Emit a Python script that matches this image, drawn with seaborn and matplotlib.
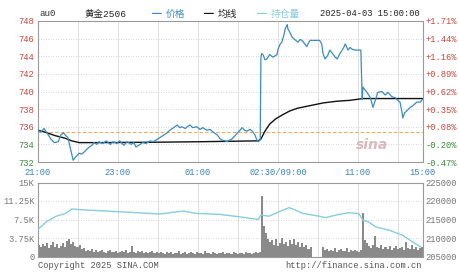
import numpy as np
import pandas as pd
import matplotlib
matplotlib.use("Agg")
import matplotlib.pyplot as plt
import seaborn as sns

# ---------------- data ----------------
# minute index from 21:00 (night 21:00-02:30, day 09:00-11:30 & 13:30-15:00)
price_min = [0, 4, 9, 15, 19, 24, 30, 34, 38, 41, 44, 46, 49, 52, 56, 61, 65, 68, 73, 76,
             80, 83, 87, 90, 96, 101, 107, 111, 117, 121, 127, 132, 138, 142, 145, 151, 155, 160, 166, 170,
             175, 181, 187, 191, 195, 201, 206, 210, 213, 218, 221, 225, 229, 235, 240, 244, 250, 255, 259, 265,
             269, 272, 277, 280, 284, 287, 292, 295, 299, 302, 306, 309, 314, 317, 321, 324, 326, 329,
             330, 331, 333, 336, 339, 343, 348, 354, 355, 358, 361, 364, 366, 369, 370, 373, 376, 380,
             385, 388, 391, 395, 398, 401, 403, 410, 417, 420, 422, 425, 429, 432, 437, 440, 443, 447,
             452, 455, 459, 462, 465, 469, 474, 478, 480, 481, 484, 487, 492, 496, 499, 503, 509, 514,
             518, 524, 529, 531, 536, 539, 540, 543, 546, 551, 555, 561, 566, 569]
price_val = [735.6, 735.4, 735.8, 735.1, 734.6, 734.2, 734.3, 735.1, 735.3, 735.0, 734.8, 734.2, 733.2, 732.2, 732.6, 733.0, 732.9, 733.1, 733.5, 733.7,
             733.9, 734.2, 734.0, 734.3, 734.1, 734.4, 734.0, 734.3, 734.1, 734.4, 733.9, 734.3, 734.0, 734.2, 733.7, 734.0, 734.2, 734.1, 734.4, 734.3,
             734.5, 734.8, 735.1, 735.3, 735.6, 735.9, 736.2, 735.9, 736.0, 735.8, 736.0, 736.2, 735.9, 736.0, 735.7, 735.9, 735.6, 735.7, 735.4, 735.1,
             734.7, 734.5, 734.4, 734.3, 734.5, 734.6, 735.0, 735.3, 735.6, 735.9, 735.6, 735.5, 735.7, 735.5, 735.1, 734.5, 734.3, 734.5,
             743.8, 744.3, 744.2, 743.6, 743.7, 744.2, 743.9, 744.2, 744.7, 745.3, 745.6, 746.4, 747.1, 747.6, 747.1, 746.7, 746.2, 745.9,
             745.6, 745.9, 745.8, 745.4, 745.1, 745.6, 745.8, 745.8, 745.8, 745.4, 744.3, 743.7, 744.1, 744.7, 744.2, 743.9, 743.7, 744.3,
             744.9, 745.4, 744.7, 745.0, 744.8, 744.7, 744.7, 744.7, 739.1, 740.5, 740.2, 739.9, 739.3, 738.2, 738.9, 739.9, 740.0, 739.6,
             739.9, 739.4, 739.3, 739.1, 738.8, 737.6, 737.0, 737.6, 737.8, 738.2, 738.4, 738.8, 738.8, 739.1]

avg_min = [0, 10, 25, 40, 50, 61, 92, 181, 240, 326, 330, 336, 343, 352, 363, 373, 384, 403, 422, 443, 462, 481, 521, 569]
avg_val = [735.6, 735.4, 735.0, 734.7, 734.4, 734.2, 734.2, 734.25, 734.3, 734.4, 734.6, 735.5, 736.3, 736.9, 737.4,
           737.8, 738.1, 738.4, 738.7, 738.9, 739.0, 739.2, 739.2, 739.2]

prev_settle = 735.4

oi_min = [0, 12, 27, 41, 50, 71, 120, 151, 179, 215, 234, 268, 298, 326, 330, 342, 363, 372, 379, 392,
          416, 426, 441, 460, 475, 481, 490, 500, 520, 540, 555, 567]
oi_val = [212300, 214360, 215900, 216650, 217830, 217560, 217100, 216800, 216470, 217290, 216650, 216400,
          215740, 215010, 216190, 215900, 217560, 218190, 217700, 216650, 215900, 215500, 216200, 216830,
          216600, 214830, 214300, 213000, 212100, 210730, 208900, 207540]

# volume (thousand lots), one reading every 3 minutes
vol_night = [2.4, 1.9, 2.6, 2.1, 2.8, 1.7, 2.3, 2.9, 2.0, 2.5, 1.8, 2.2, 2.7, 2.0, 3.1, 3.5, 2.6, 3.0, 2.2, 1.9, 2.4,
             1.5, 1.8, 1.2, 1.4, 1.1, 1.6, 1.0, 1.3, 0.9, 1.2, 1.4, 1.0, 0.8, 1.1, 1.3, 0.9, 1.0, 1.2, 0.8, 1.0,
             1.1, 0.9, 1.3, 0.7, 1.0, 2.1, 0.9, 0.8, 1.1, 0.9, 1.2, 0.8, 1.0, 0.7, 0.9, 1.1, 0.8, 1.0, 0.7, 0.9,
             0.8, 0.6, 0.9, 0.7, 1.0, 0.6, 0.8, 0.7, 1.1, 0.6, 0.8, 0.9, 0.6, 0.7, 1.0, 0.8, 0.6, 0.9, 0.7, 0.8,
             0.6, 1.2, 0.7, 0.8, 0.6, 0.9, 0.7, 0.6, 0.8, 0.7, 0.9, 0.6, 0.7, 0.8, 0.6, 0.9, 0.7, 0.6, 0.8, 0.7,
             0.6, 0.9, 0.7, 0.8, 0.6, 0.7, 0.9, 0.8, 1.0]
vol_day = [12.2, 6.1, 4.8, 3.6, 2.9, 3.3, 2.4, 3.5, 2.2, 2.8, 3.7, 2.5, 3.0, 2.1, 3.4, 2.6, 3.6, 2.3, 2.9, 2.0,
           2.7, 1.9, 2.4, 1.6, 2.0,
           0, 0, 0, 0, 0,
           1.9, 1.3, 1.6, 1.1, 1.4, 1.2, 1.7, 1.0, 1.3, 1.5, 1.1, 1.2, 1.8, 1.0, 1.3, 1.1, 1.4, 1.2, 1.0, 1.3,
           8.8, 3.4, 2.8, 2.2, 1.8, 2.4, 4.1, 2.0, 1.7, 2.3, 1.5, 1.9, 1.6, 2.1, 1.4, 1.8, 2.2, 1.5, 1.7, 2.0,
           1.4, 3.0, 1.8, 1.6, 2.3, 1.5, 1.9, 1.4, 1.7, 1.9]
night_start, day_start, vol_step = 0, 330, 3

total_minutes = 570
grid_step = 59.22
time_labels = ["21:00", "", "23:00", "", "01:00", "", "02:30/09:00", "", "11:00", "", "15:00"]

price_ticks = [732, 734, 736, 738, 740, 742, 744, 746, 748]
pct_labels = ["-0.47%", "-0.20%", "+0.08%", "+0.35%", "+0.62%", "+0.89%", "+1.16%", "+1.44%", "+1.71%"]
vol_ticks = [0, 3.75, 7.5, 11.25, 15]
vol_labels = ["0", "3.75K", "7.5K", "11.25K", "15K"]
oi_ticks = [205000, 210000, 215000, 220000, 225000]
oi_labels = ["205000", "210000", "215000", "220000", "225000"]

# ---------------- style ----------------
sns.set_theme(style="white")
MONO = ['Liberation Mono', 'Noto Sans CJK SC', 'DejaVu Sans']
CJK = ['Noto Sans CJK SC', 'DejaVu Sans']
plt.rcParams['font.family'] = MONO

RED = "#c8463c"
GREEN = "#3b8a3b"
BLUE = "#3a8cc0"
OI_C = "#86cde0"
GRAY_T = "#777777"
FRAME = "#9a9a9a"
FS = 6.3

fig = plt.figure(figsize=(4.6, 2.75), dpi=100)
W, H = 460.0, 275.0
def rect(x0, y0, x1, y1):
    return [x0 / W, 1 - y1 / H, (x1 - x0) / W, (y1 - y0) / H]

ax1 = fig.add_axes(rect(38, 21, 423, 162))
ax2 = fig.add_axes(rect(38, 182.5, 423, 256.5))

xt = [i * grid_step for i in range(10)] + [total_minutes]

for ax in (ax1, ax2):
    ax.set_facecolor("white")
    ax.set_xlim(0, total_minutes)
    for s in ax.spines.values():
        s.set_color(FRAME)
        s.set_linewidth(0.8)
    for x in xt[1:-1]:
        ax.axvline(x, color="#dcdcdc", lw=0.7, zorder=0)

# upper panel
for y in price_ticks[1:-1]:
    ax1.axhline(y, color="#c8c8c8", lw=0.6, ls=(0, (1, 2)), zorder=0)
ax1.axhline(prev_settle, color="#f0a860", lw=0.8, ls=(0, (3, 2)), zorder=1)
sns.lineplot(x=avg_min, y=avg_val, ax=ax1, color="#111111", lw=1.0, estimator=None, zorder=3)
sns.lineplot(x=price_min, y=price_val, ax=ax1, color=BLUE, lw=0.9, estimator=None, zorder=4)
ax1.set_ylim(732, 748)
ax1.set_yticks(price_ticks)
ax1.set_yticklabels([str(t) for t in price_ticks])
for lbl, t in zip(ax1.get_yticklabels(), price_ticks):
    lbl.set_color(RED if t > prev_settle else GREEN)
ax1.set_xticks(xt)
ax1.set_xticklabels(time_labels)
ax1.tick_params(axis="x", length=0, pad=4.5, labelsize=FS, labelcolor="#3a84b8")
ax1.tick_params(axis="y", length=0, pad=2.5, labelsize=FS)
ax1.set_xlabel("")
ax1.set_ylabel("")

ax1r = ax1.twinx()
ax1r.set_ylim(732, 748)
ax1r.set_yticks(price_ticks)
ax1r.set_yticklabels(pct_labels)
for lbl, s in zip(ax1r.get_yticklabels(), pct_labels):
    lbl.set_color(RED if s.startswith("+") else GREEN)
ax1r.tick_params(axis="y", length=0, pad=1.5, labelsize=FS)
for s in ax1r.spines.values():
    s.set_visible(False)

# lower panel
for y in vol_ticks[1:-1]:
    ax2.axhline(y, color="#c8c8c8", lw=0.6, ls=(0, (1, 2)), zorder=0)
vx_n = [night_start + vol_step * i for i in range(len(vol_night))]
vx_d = [day_start + vol_step * i for i in range(len(vol_day))]
ax2.bar(vx_n + vx_d, vol_night + vol_day, width=vol_step, align="edge",
        color="#8a8a8a", linewidth=0, zorder=2)
ax2.set_ylim(0, 15)
ax2.set_yticks(vol_ticks)
ax2.set_yticklabels(vol_labels)
ax2.set_xticks(xt)
ax2.set_xticklabels([])
ax2.tick_params(axis="both", length=0, pad=2.5, labelsize=FS, labelcolor=GRAY_T)

ax2r = ax2.twinx()
sns.lineplot(x=oi_min, y=oi_val, ax=ax2r, color=OI_C, lw=1.0, estimator=None)
ax2r.set_ylim(205000, 225000)
ax2r.set_yticks(oi_ticks)
ax2r.set_yticklabels(oi_labels)
ax2r.tick_params(axis="y", length=0, pad=1.5, labelsize=FS, labelcolor=GRAY_T)
ax2r.set_ylabel("")
ax2r.set_xlim(0, total_minutes)
for s in ax2r.spines.values():
    s.set_visible(False)

# header / legend
def ftext(x, y, s, **kw):
    fig.text(x / W, 1 - y / H, s, va="center", **kw)

ftext(39, 14, "au0", fontsize=FS + 0.3, color="#333333")
ftext(85, 14, "黄金2506", fontsize=6.8, color="#222222")
ftext(152, 14, "━", fontsize=7, color=BLUE, family=CJK)
ftext(166, 14, "价格", fontsize=7, color=BLUE, family=CJK)
ftext(204, 14, "━", fontsize=7, color="#111111", family=CJK)
ftext(218, 14, "均线", fontsize=7, color="#222222", family=CJK)
ftext(257, 14, "━", fontsize=7, color=OI_C, family=CJK)
ftext(271, 14, "持仓量", fontsize=7, color=OI_C, family=CJK)
ftext(320, 14, "2025-04-03 15:00:00", fontsize=FS, color="#222222")

# footer
ftext(38, 265, "Copyright 2025 SINA.COM", fontsize=FS, color="#555555")
ftext(422, 265, "http://finance.sina.com.cn", fontsize=FS, color="#555555", ha="right")

# watermark
ftext(372, 145, "sina", fontsize=10, color="#d8b9bd", style="italic", weight="bold",
      ha="center", family=["DejaVu Sans"])

fig.savefig("out.png", dpi=100)
